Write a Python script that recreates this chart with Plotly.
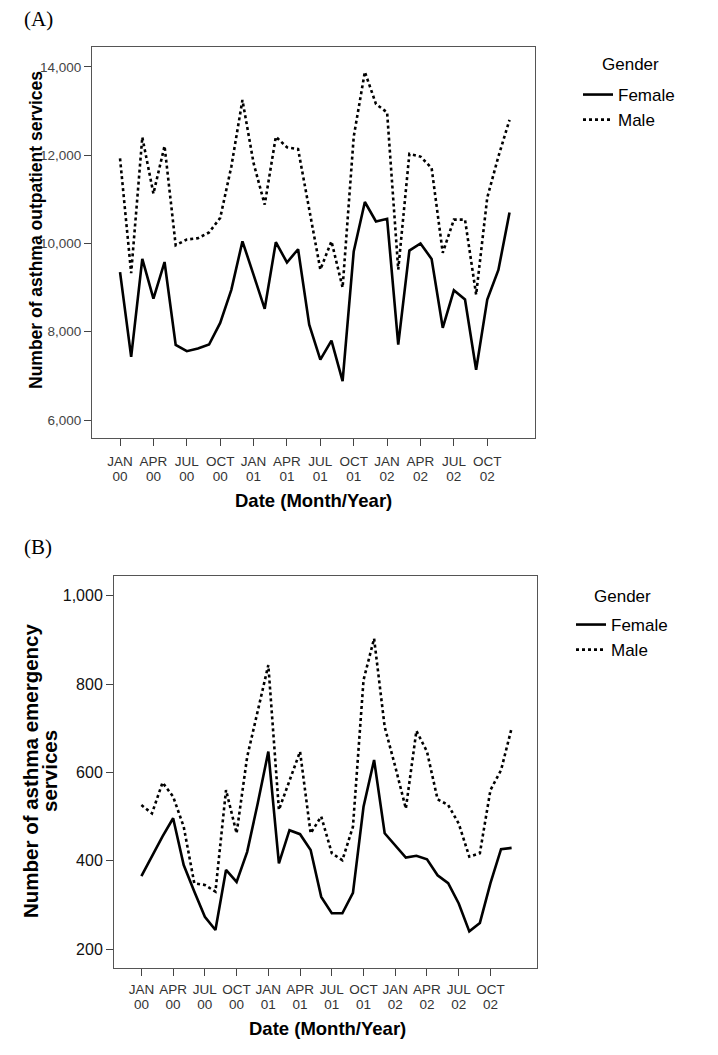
import plotly.graph_objects as go

# ---------------- data ----------------
month_index = list(range(36))  # Jan 2000 .. Dec 2002
tick_positions = [0, 3, 6, 9, 12, 15, 18, 21, 24, 27, 30, 33]
tick_months = ["JAN", "APR", "JUL", "OCT"] * 3
tick_years = ["00"] * 4 + ["01"] * 4 + ["02"] * 4

outpatient_female = [9350, 7430, 9650, 8750, 9580, 7700, 7560, 7620, 7710, 8200, 8950, 10050,
                     9290, 8520, 10030, 9570, 9870, 8160, 7370, 7800, 6880, 9820, 10940, 10500,
                     10560, 7710, 9840, 10000, 9650, 8090, 8940, 8730, 7140, 8730, 9400, 10700]
outpatient_male = [11930, 9330, 12410, 11130, 12210, 9960, 10090, 10120, 10250, 10580, 11740, 13250,
                   11820, 10880, 12420, 12180, 12140, 10750, 9410, 10050, 9000, 12420, 13890, 13160,
                   12970, 9410, 12030, 11970, 11710, 9790, 10540, 10540, 8840, 11040, 11970, 12800]

emergency_female = [365, 410, 455, 496, 390, 330, 273, 243, 379, 352, 420, 530,
                    647, 394, 469, 460, 424, 318, 281, 281, 327, 522, 628, 462,
                    435, 407, 411, 403, 367, 349, 303, 240, 259, 349, 426, 429]
emergency_male = [526, 507, 577, 545, 477, 349, 345, 330, 560, 462, 635, 741,
                  843, 515, 583, 647, 462, 500, 417, 401, 477, 809, 903, 703,
                  613, 518, 694, 647, 539, 526, 484, 409, 417, 560, 605, 700]

# ---------------- figure ----------------
W, H = 718, 1055
def px_x(p): return p / W
def px_y(p): return 1 - p / H

SANS = "Liberation Sans, Arial, sans-serif"
SERIF = "Liberation Serif, Times New Roman, serif"
fig = go.Figure()

line_w = 2.6
fig.add_trace(go.Scatter(x=month_index, y=outpatient_female, mode="lines", name="Female",
                         line=dict(color="black", width=line_w), xaxis="x", yaxis="y",
                         legend="legend"))
fig.add_trace(go.Scatter(x=month_index, y=outpatient_male, mode="lines", name="Male",
                         line=dict(color="black", width=line_w, dash="dot"), xaxis="x", yaxis="y",
                         legend="legend"))
fig.add_trace(go.Scatter(x=month_index, y=emergency_female, mode="lines", name="Female",
                         line=dict(color="black", width=line_w), xaxis="x2", yaxis="y2",
                         legend="legend2"))
fig.add_trace(go.Scatter(x=month_index, y=emergency_male, mode="lines", name="Male",
                         line=dict(color="black", width=line_w, dash="dot"), xaxis="x2", yaxis="y2",
                         legend="legend2"))
# invisible carriers so the year-label axes get drawn
fig.add_trace(go.Scatter(x=month_index, y=outpatient_female, mode="lines", showlegend=False,
                         line=dict(color="rgba(0,0,0,0)", width=0), hoverinfo="skip",
                         xaxis="x3", yaxis="y"))
fig.add_trace(go.Scatter(x=month_index, y=emergency_female, mode="lines", showlegend=False,
                         line=dict(color="rgba(0,0,0,0)", width=0), hoverinfo="skip",
                         xaxis="x4", yaxis="y2"))

frame = dict(showline=True, linecolor="#555", linewidth=1, mirror=True,
             ticks="outside", ticklen=7, tickcolor="#444", tickwidth=1,
             showgrid=False, zeroline=False)
xfont = dict(family=SANS, size=13.5, color="#333")

top_xdom = [px_x(92), px_x(535)]
top_xrange = [-2.52, 37.29]
bot_xdom = [px_x(114), px_x(537)]
bot_xrange = [-2.59, 37.4]

year_axis = dict(showline=False, showgrid=False, zeroline=False, ticks="outside", ticklen=7,
                 tickcolor="rgba(0,0,0,0)", tickvals=tick_positions, ticktext=tick_years,
                 tickfont=xfont, side="bottom")

fig.update_layout(
    width=W, height=H,
    margin=dict(l=0, r=0, t=0, b=0),
    paper_bgcolor="white", plot_bgcolor="white",
    xaxis=dict(domain=top_xdom, range=top_xrange, anchor="y",
               tickvals=tick_positions, ticktext=tick_months, tickfont=xfont,
               ticklabelstandoff=4, **frame),
    xaxis3=dict(domain=top_xdom, range=top_xrange, anchor="y", overlaying="x",
                ticklabelstandoff=19, **year_axis),
    yaxis=dict(domain=[px_y(438), px_y(47)], range=[5592, 14453], anchor="x",
               tickvals=[6000, 8000, 10000, 12000, 14000], tickformat=",d",
               tickfont=dict(family=SANS, size=13.5, color="#444"), **frame),
    xaxis2=dict(domain=bot_xdom, range=bot_xrange, anchor="y2",
                tickvals=tick_positions, ticktext=tick_months, tickfont=xfont,
                ticklabelstandoff=2, **frame),
    xaxis4=dict(domain=bot_xdom, range=bot_xrange, anchor="y2", overlaying="x2",
                ticklabelstandoff=17, **year_axis),
    yaxis2=dict(domain=[px_y(968), px_y(576)], range=[157, 1044.6], anchor="x2",
                tickvals=[200, 400, 600, 800, 1000], tickformat=",d",
                tickfont=dict(family=SANS, size=16, color="#111"), **frame),
    legend=dict(x=px_x(578), y=px_y(77), xanchor="left", yanchor="top",
                font=dict(family=SANS, size=17, color="black"), bgcolor="rgba(0,0,0,0)"),
    legend2=dict(x=px_x(571), y=px_y(607), xanchor="left", yanchor="top",
                 font=dict(family=SANS, size=17, color="black"), bgcolor="rgba(0,0,0,0)"),
    showlegend=True,
)

annotations = [
    dict(text="(A)", x=px_x(38), y=px_y(19), font=dict(family=SERIF, size=21, color="black")),
    dict(text="(B)", x=px_x(38), y=px_y(547), font=dict(family=SERIF, size=21, color="black")),
    dict(text="Gender", x=px_x(630), y=px_y(65), font=dict(family=SANS, size=17, color="black")),
    dict(text="Gender", x=px_x(622), y=px_y(596), font=dict(family=SANS, size=17, color="black")),
    dict(text="<b>Date (Month/Year)</b>", x=px_x(313), y=px_y(500), font=dict(family=SANS, size=18.5, color="black")),
    dict(text="<b>Date (Month/Year)</b>", x=px_x(327), y=px_y(1028), font=dict(family=SANS, size=18.5, color="black")),
    dict(text="<b>Number of asthma outpatient services</b>", x=px_x(36), y=px_y(230), textangle=-90,
         font=dict(family=SANS, size=17.5, color="black")),
    dict(text="<b>Number of asthma emergency</b>", x=px_x(30), y=px_y(771), textangle=-90,
         font=dict(family=SANS, size=20.5, color="black")),
    dict(text="<b>services</b>", x=px_x(49), y=px_y(771), textangle=-90,
         font=dict(family=SANS, size=20.5, color="black")),
]
for a in annotations:
    a.update(xref="paper", yref="paper", showarrow=False, xanchor="center", yanchor="middle")
fig.update_layout(annotations=annotations)

fig.write_html("out.html", config={"displayModeBar": False},
               post_script="document.body.style.margin='0';document.body.style.overflow='hidden';")
